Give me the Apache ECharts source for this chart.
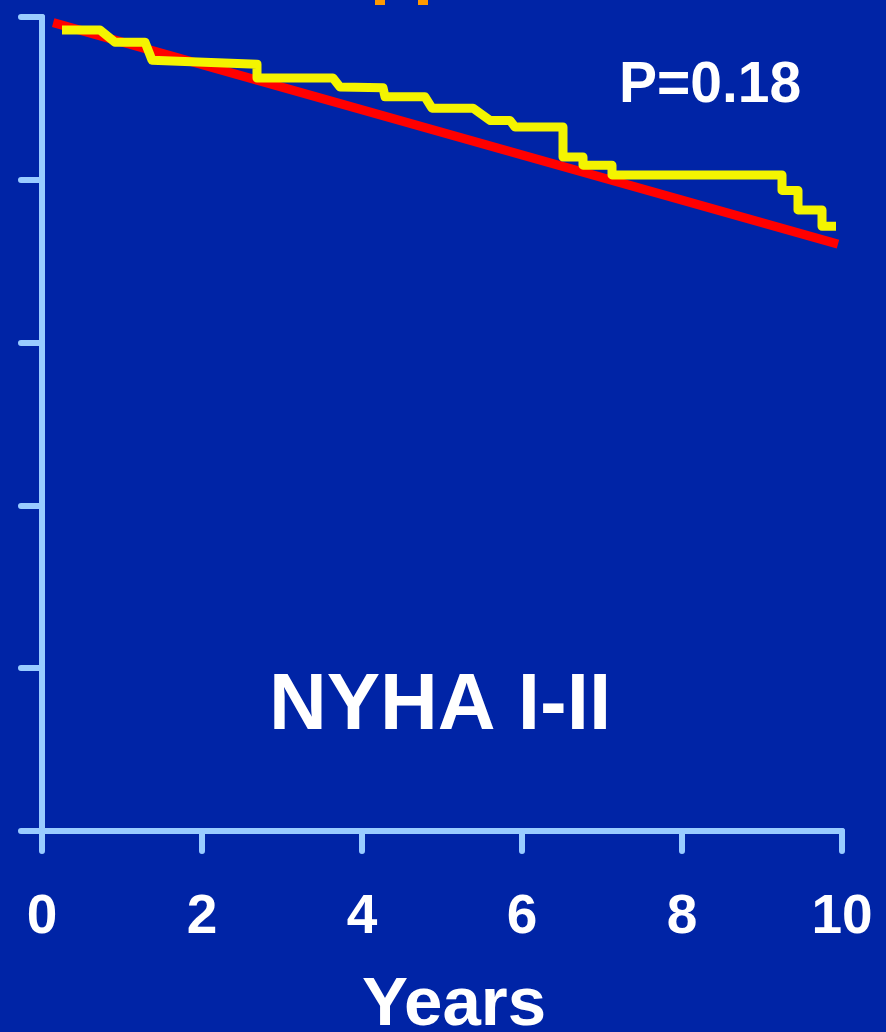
<!DOCTYPE html>
<html>
<head>
<meta charset="utf-8">
<script src="https://cdn.jsdelivr.net/npm/echarts@6/dist/echarts.min.js"></script>
<style>
html,body{margin:0;padding:0;background:#0024a6;}
#chart{width:886px;height:1032px;}
</style>
</head>
<body>
<div id="chart"></div>
<script>
// Tick labels of the x axis (years)
const xTicks = [0, 2, 4, 6, 8, 10];
// Observed survival (yellow), x in years, y in %
const observedYears = [0.25, 0.725, 0.9125, 1.2875, 1.375, 2.6875, 2.6875, 3.6375, 3.725, 4.2625, 4.2875, 4.7875, 4.875, 5.3875, 5.6, 5.85, 5.9125, 6.5125, 6.5125, 6.7625, 6.7625, 7.125, 7.125, 9.25, 9.25, 9.45, 9.45, 9.75, 9.75, 9.925];
const observedSurv = [98.4, 98.4, 96.9, 96.9, 94.7, 94.2, 92.5, 92.5, 91.4, 91.3, 90.2, 90.2, 88.8, 88.8, 87.3, 87.3, 86.5, 86.5, 82.8, 82.8, 81.8, 81.8, 80.6, 80.6, 78.7, 78.7, 76.3, 76.3, 74.3, 74.3];
// Expected survival (red)
const expectedYears = [0.14, 9.95];
const expectedSurv = [99.3, 72.1];

const axisColor = '#99ccff';
const chart = echarts.init(document.getElementById('chart'), null, {renderer: 'canvas'});
const font = 'Liberation Sans, Arial, sans-serif';

chart.setOption({
  backgroundColor: '#0024a6',
  animation: false,
  grid: {left: 42, right: 44, top: 17, bottom: 201, containLabel: false, outerBoundsMode: 'none'},
  xAxis: {
    type: 'value', min: 0, max: 10, interval: 2,
    axisLine: {show: true, lineStyle: {color: axisColor, width: 6, cap: 'round'}},
    axisTick: {show: true, length: 20, lineStyle: {color: axisColor, width: 6, cap: 'round'}},
    splitLine: {show: false},
    axisLabel: {
      color: '#ffffff', fontSize: 55, fontWeight: 'bold', fontFamily: font, margin: 59,
      formatter: v => (xTicks.indexOf(v) >= 0 ? String(v) : '')
    },
    name: 'Years', nameLocation: 'middle', nameGap: 140,
    nameTextStyle: {color: '#ffffff', fontSize: 69, fontWeight: 'bold', fontFamily: font, padding: [0, 0, 0, 24]}
  },
  yAxis: {
    type: 'value', min: 0, max: 100, interval: 20,
    axisLine: {show: true, lineStyle: {color: axisColor, width: 6, cap: 'round'}},
    axisTick: {show: true, length: 21, lineStyle: {color: axisColor, width: 6, cap: 'round'}},
    axisLabel: {show: false},
    splitLine: {show: false}
  },
  series: [
    {
      type: 'line', name: 'Expected', symbol: 'none', z: 2,
      data: expectedYears.map((x, i) => [x, expectedSurv[i]]),
      lineStyle: {color: '#ff0000', width: 9, cap: 'butt'}
    },
    {
      type: 'line', name: 'Observed', symbol: 'none', z: 3,
      data: observedYears.map((x, i) => [x, observedSurv[i]]),
      lineStyle: {color: '#f4f400', width: 9, cap: 'butt', join: 'round'}
    }
  ],
  graphic: [
    {type: 'text', x: 710, y: 86, z: 10,
     style: {text: 'P=0.18', fill: '#ffffff', font: 'bold 57px ' + font, textAlign: 'center', textVerticalAlign: 'middle'}},
    {type: 'text', x: 440, y: 707, z: 10,
     style: {text: 'NYHA I-II', fill: '#ffffff', font: 'bold 80px ' + font, textAlign: 'center', textVerticalAlign: 'middle'}},
    {type: 'rect', x: 375, y: 0, shape: {width: 10, height: 5}, style: {fill: '#ff9900'}},
    {type: 'rect', x: 418, y: 0, shape: {width: 10, height: 5}, style: {fill: '#ff9900'}}
  ]
});
</script>
</body>
</html>
